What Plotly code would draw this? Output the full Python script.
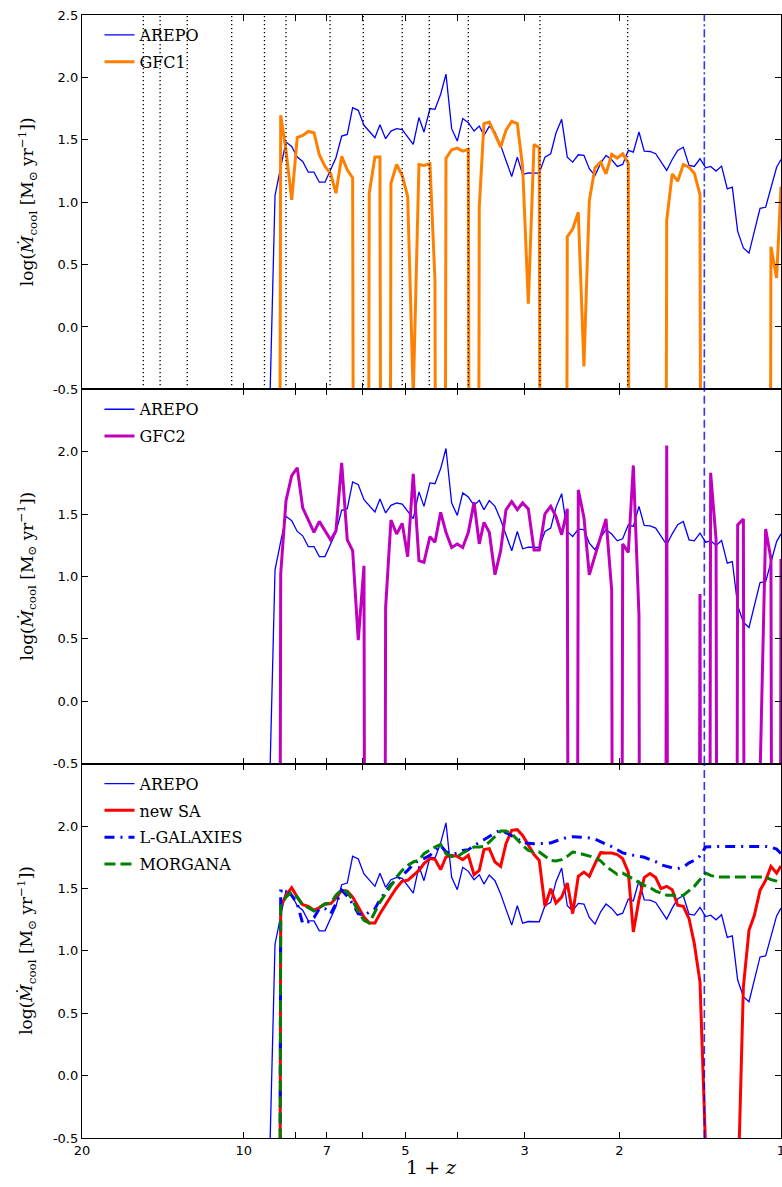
import math
import plotly.graph_objects as go
from plotly.subplots import make_subplots

OFF = -20.0  # log of a vanishing cooling rate (falls below the axis)

SNAP_1PZ = [8.94, 8.745, 8.535, 8.343, 8.142, 7.95, 7.767, 7.583, 7.40, 7.233,
            7.059, 6.888, 6.735, 6.572, 6.416, 6.27, 6.121, 5.973, 5.84, 5.699,
            5.578, 5.444, 5.321, 5.193, 5.07, 4.953, 4.836, 4.719, 4.619, 4.502,
            4.406, 4.30, 4.203, 4.102, 4.004, 3.912, 3.819, 3.727, 3.644, 3.572,
            3.491, 3.407, 3.325, 3.25, 3.171, 3.096, 3.026, 2.953, 2.882, 2.818,
            2.75, 2.683, 2.623, 2.56, 2.499, 2.442, 2.384, 2.327, 2.274, 2.219,
            2.166, 2.117, 2.066, 2.017, 1.971, 1.924, 1.883, 1.838, 1.797, 1.753,
            1.711, 1.673, 1.632, 1.594, 1.557, 1.52, 1.483, 1.45, 1.415, 1.381,
            1.352, 1.321, 1.29, 1.259, 1.232, 1.204, 1.175, 1.147, 1.121, 1.094,
            1.068, 1.044, 1.019, 1.0]

AREPO = [-0.6, 1.053, 1.28, 1.482, 1.447, 1.361, 1.326, 1.24, 1.24, 1.16,
         1.16, 1.268, 1.356, 1.53, 1.543, 1.758, 1.736, 1.616, 1.567, 1.517,
         1.621, 1.509, 1.57, 1.589, 1.581, 1.527, 1.463, 1.678, 1.562, 1.75,
         1.744, 1.865, 2.026, 1.589, 1.49, 1.67, 1.637, 1.57, 1.61, 1.535,
         1.608, 1.562, 1.455, 1.334, 1.206, 1.361, 1.222, 1.235, 1.233, 1.233,
         1.361, 1.388, 1.554, 1.664, 1.361, 1.321, 1.38, 1.375, 1.268, 1.214,
         1.313, 1.375, 1.34, 1.286, 1.302, 1.415, 1.401, 1.562, 1.409, 1.406,
         1.388, 1.321, 1.254, 1.342, 1.415, 1.441, 1.294, 1.286, 1.348, 1.275,
         1.286, 1.249, 1.289, 1.107, 1.12, 0.766, 0.633, 0.592, 0.772, 0.951,
         0.959, 1.12, 1.28, 1.342]

GFC1 = [None, OFF, 1.696, 1.415, 1.019, 1.517, 1.535, 1.567, 1.557, 1.38,
        1.286, 1.227, 1.072, 1.367, 1.26, 1.195, OFF, OFF, 1.072, 1.361,
        1.361, OFF, 1.152, 1.302, 1.214, 1.045, -0.55, 1.302, 1.294, 1.308,
        0.37, OFF, 1.35, 1.42, 1.433, 1.409, 1.423, OFF, 0.959, 1.63,
        1.642, 1.543, 1.441, 1.576, 1.648, 1.63, 1.28, 0.187, 1.463, 1.436,
        OFF, OFF, OFF, OFF, 0.723, 0.785, 0.919, -0.317, 1.013, 1.276,
        1.321, 1.227, 1.383, 1.353, 1.388, 1.313, OFF, OFF, OFF, OFF,
        OFF, OFF, 0.852, 1.227, 1.168, 1.302, 1.28, 1.232, 1.061, OFF,
        OFF, OFF, OFF, OFF, OFF, OFF, OFF, OFF, OFF, OFF,
        OFF, 0.643, 0.392, 1.125]

GFC2 = [None, OFF, 1.020, 1.608, 1.809, 1.871, 1.550, 1.453, 1.354, 1.442,
        1.362, 1.293, 1.367, 1.911, 1.293, 1.207, 0.490, 1.086, OFF, OFF,
        OFF, 0.751, 1.453, 1.341, 1.426, 1.159, 1.823, 1.127, 1.113, 1.319,
        1.274, 1.514, 1.354, 1.233, 1.261, 1.233, 1.354, 1.595, 1.261, 1.434,
        1.354, 1.014, 1.207, 1.534, 1.600, 1.536, 1.590, 1.542, 1.212, 1.212,
        1.502, 1.563, 1.48, 1.335, 1.542, OFF, 1.694, 1.474, 1.014, 1.167,
        1.319, 1.461, 0.891, OFF, 1.261, 1.193, 1.89, 0.685, OFF, OFF,
        OFF, OFF, 2.05, OFF, OFF, OFF, OFF, OFF, 0.86, OFF,
        1.831, 1.30, OFF, OFF, OFF, 1.413, 1.461, OFF, OFF, -0.6,
        1.381, 1.14, OFF, 1.14]

NEW_SA = [None, OFF, 1.357, 1.445, 1.506, 1.431, 1.370, 1.357, 1.325, 1.346,
          1.373, 1.378, 1.423, 1.485, 1.479, 1.431, 1.357, 1.271, 1.223, 1.223,
          1.298, 1.373, 1.437, 1.506, 1.559, 1.565, 1.605, 1.645, 1.699, 1.739,
          1.733, 1.651, 1.752, 1.765, 1.757, 1.731, 1.765, 1.61, 1.645, 1.811,
          1.819, 1.712, 1.677, 1.859, 1.966, 1.971, 1.925, 1.845, 1.771, 1.725,
          1.357, 1.498, 1.383, 1.431, 1.543, 1.298, 1.597, 1.631, 1.597, 1.699,
          1.787, 1.784, 1.784, 1.771, 1.739, 1.631, 1.151, 1.41, 1.587, 1.619,
          1.587, 1.498, 1.517, 1.490, 1.365, 1.357, 1.258, 1.058, 0.75, -0.6,
          OFF, OFF, OFF, OFF, OFF, -1.0, 0.71, 1.164, 1.285, 1.485,
          1.565, 1.677, 1.623, 1.68]

L_GALAXIES = [None, OFF, 1.479, 1.479, 1.445, 1.378, 1.218, 1.231, 1.266, 1.338,
              1.338, 1.298, 1.378, 1.485, 1.437, 1.378, 1.298, 1.284, 1.311, 1.338,
              1.41, 1.471, 1.533, 1.565, 1.605, 1.645, 1.693, 1.725, 1.739, 1.765,
              1.805, 1.845, 1.792, 1.773, 1.784, 1.805, 1.811, 1.845, 1.87, 1.89,
              1.92, 1.945, 1.968, 1.945, 1.92, 1.899, 1.865, 1.86, 1.859, 1.859,
              1.859, 1.865, 1.88, 1.895, 1.91, 1.915, 1.912, 1.908, 1.905, 1.895,
              1.875, 1.86, 1.835, 1.81, 1.785, 1.775, 1.765, 1.757, 1.75, 1.735,
              1.715, 1.69, 1.675, 1.665, 1.659, 1.67, 1.705, 1.725, 1.76, 1.832,
              1.835, 1.837, 1.837, 1.837, 1.837, 1.837, 1.837, 1.837, 1.837, 1.837,
              1.837, 1.83, 1.815, 1.779]

MORGANA = [None, OFF, 1.357, 1.431, 1.471, 1.431, 1.365, 1.346, 1.319, 1.346,
           1.378, 1.383, 1.445, 1.49, 1.471, 1.405, 1.311, 1.244, 1.223, 1.311,
           1.391, 1.458, 1.525, 1.591, 1.645, 1.685, 1.712, 1.725, 1.779, 1.811,
           1.832, 1.853, 1.779, 1.757, 1.757, 1.784, 1.805, 1.832, 1.832, 1.837,
           1.872, 1.917, 1.96, 1.96, 1.939, 1.891, 1.845, 1.805, 1.792, 1.792,
           1.755, 1.725, 1.72, 1.731, 1.757, 1.792, 1.784, 1.773, 1.757, 1.747,
           1.72, 1.677, 1.645, 1.613, 1.623, 1.597, 1.571, 1.551, 1.525, 1.506,
           1.479, 1.463, 1.445, 1.445, 1.437, 1.445, 1.479, 1.517, 1.571, 1.623,
           1.605, 1.591, 1.591, 1.591, 1.597, 1.597, 1.597, 1.597, 1.597, 1.597,
           1.591, 1.571, 1.559, 1.543]

MERGER_1PZ = [15.38, 14.31, 12.74, 10.53, 9.15, 8.343, 6.908, 5.99, 5.07,
              4.515, 3.819, 2.81, 1.929]
MARK_1PZ = 1.389

X_TICKS = [20, 10, 8, 7, 6, 5, 4, 3, 2, 1]
X_TICKTEXT = ["20", "10", "", "7", "", "5", "", "3", "2", "1"]
Y_TICKS = [-0.5, 0.0, 0.5, 1.0, 1.5, 2.0, 2.5]
Y_TICKTEXT_TOP = ["-0.5", "0.0", "0.5", "1.0", "1.5", "2.0", "2.5"]
Y_TICKTEXT = ["-0.5", "0.0", "0.5", "1.0", "1.5", "2.0", ""]

for s in (AREPO, GFC1, GFC2, NEW_SA, L_GALAXIES, MORGANA):
    assert len(s) == len(SNAP_1PZ), len(s)

SERIF = "DejaVu Serif"
W, H = 782, 1187
ML, MR, MT, MB = 82, 1, 15, 49
PH = H - MT - MB

fig = make_subplots(rows=3, cols=1, shared_xaxes=True, vertical_spacing=0)


def add(row, y, name, color, width, legend, dash=None):
    fig.add_trace(go.Scatter(x=SNAP_1PZ, y=y, mode="lines", name=name,
                             line=dict(color=color, width=width, dash=dash),
                             legend=legend, legendgroup=f"{name}{row}"),
                  row=row, col=1)


add(1, AREPO, "AREPO", "#0000ff", 1.3, "legend")
add(1, GFC1, "GFC1", "#ff8000", 3, "legend")
add(2, AREPO, "AREPO", "#0000ff", 1.3, "legend2")
add(2, GFC2, "GFC2", "#bf00bf", 3, "legend2")
add(3, AREPO, "AREPO", "#0000ff", 1.3, "legend3")
add(3, NEW_SA, "new SA", "#ff0000", 3, "legend3")
add(3, L_GALAXIES, "L-GALAXIES", "#0000ff", 3, "legend3", dash="10px,6px,2px,6px")
add(3, MORGANA, "MORGANA", "#008000", 3, "legend3", dash="11px,5px")

for r in (1, 2, 3):
    fig.update_xaxes(type="log", range=[math.log10(20), 0], tickvals=X_TICKS,
                     ticktext=X_TICKTEXT, ticks="inside", ticklen=6, tickwidth=1,
                     tickcolor="black", showline=True, linecolor="black",
                     linewidth=1.3, mirror="allticks", showgrid=False,
                     zeroline=False, showticklabels=(r == 3), automargin=False,
                     ticklabeloverflow="allow",
                     tickfont=dict(family="DejaVu Sans", size=13, color="black"),
                     row=r, col=1)
    fig.update_yaxes(range=[-0.5, 2.5], tickvals=Y_TICKS,
                     ticktext=Y_TICKTEXT_TOP if r == 1 else Y_TICKTEXT,
                     ticks="inside", ticklen=6, tickwidth=1, tickcolor="black",
                     showline=True, linecolor="black", linewidth=1.3,
                     mirror="allticks", showgrid=False, zeroline=False,
                     automargin=False,
                     tickfont=dict(family="DejaVu Sans", size=13, color="black"),
                     row=r, col=1)

shapes = []
for xv in MERGER_1PZ:
    shapes.append(dict(type="line", xref="x", yref="y domain", x0=xv, x1=xv,
                       y0=0, y1=1, line=dict(color="black", width=1.3, dash="1.3px,2.7px")))
for r, dash in ((1, "8px,3px,2px,3px"), (2, "8px,4px"), (3, "8px,4px")):
    sx = "x" if r == 1 else f"x{r}"
    sy = "y domain" if r == 1 else f"y{r} domain"
    shapes.append(dict(type="line", xref=sx, yref=sy, x0=MARK_1PZ, x1=MARK_1PZ,
                       y0=0, y1=1, line=dict(color="rgba(0,0,255,0.8)", width=1.6, dash=dash)))

tops = [1.0, 2 / 3, 1 / 3]
annotations = []
ylabel = "log(<i>Ṁ</i><sub>cool</sub> [M<sub>⊙</sub> yr<sup>−1</sup>])"
for t in tops:
    annotations.append(dict(text=ylabel, xref="paper", yref="paper", x=0,
                            y=t - 1 / 6, xshift=-55, textangle=-90, showarrow=False,
                            xanchor="center", yanchor="middle",
                            font=dict(family=SERIF, size=17, color="black")))
annotations.append(dict(text="1 + <i>z</i>", xref="paper", yref="paper", x=0.5, y=0,
                        yshift=-29, showarrow=False, xanchor="center", yanchor="middle",
                        font=dict(family=SERIF, size=19, color="black")))


def leg(t):
    return dict(x=0.025, y=t - 3 / PH, xanchor="left", yanchor="top",
                bgcolor="rgba(0,0,0,0)", borderwidth=0, tracegroupgap=3,
                itemwidth=30, traceorder="grouped",
                font=dict(family=SERIF, size=16, color="black"))


fig.update_layout(width=W, height=H, margin=dict(l=ML, r=MR, t=MT, b=MB, autoexpand=False),
                  paper_bgcolor="white", plot_bgcolor="white",
                  font=dict(family="DejaVu Sans", color="black"),
                  shapes=shapes, annotations=annotations,
                  legend=leg(tops[0]), legend2=leg(tops[1]), legend3=leg(tops[2]),
                  showlegend=True)

fig.write_html("out.html", config={"displayModeBar": False},
               post_script="document.body.style.margin='0';document.body.style.overflow='hidden';")
